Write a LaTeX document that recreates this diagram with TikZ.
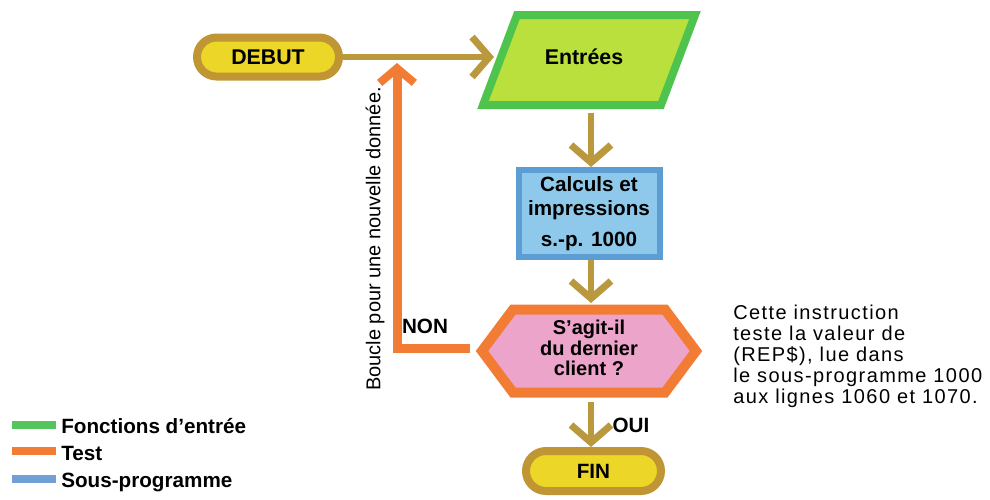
\documentclass[tikz,border=0pt]{standalone}
\usepackage{fontspec}
\setmainfont{Liberation Sans}
\usetikzlibrary{arrows.meta,shapes.misc}

\definecolor{flowarrow}{RGB}{186,152,62}
\definecolor{pillring}{RGB}{192,150,52}
\definecolor{pillfill}{RGB}{236,214,40}
\definecolor{inring}{RGB}{78,196,78}
\definecolor{infill}{RGB}{186,224,62}
\definecolor{subring}{RGB}{92,158,212}
\definecolor{subfill}{RGB}{142,200,234}
\definecolor{testring}{RGB}{242,124,52}
\definecolor{testfill}{RGB}{236,164,202}
\definecolor{legblue}{RGB}{112,160,214}
\definecolor{leggreen}{RGB}{84,196,92}

\begin{document}
\begin{tikzpicture}[x=0.75pt,y=-0.75pt,
  lbl/.style={font=\bfseries\fontsize{15.5}{18}\selectfont, inner sep=0pt, align=center},
  pill/.style={rounded rectangle, draw=pillring, line width=6pt, fill=pillfill, lbl},
  inring/.style={draw=inring, fill=infill, line width=6pt, line join=miter},
  testring/.style={draw=testring, fill=testfill, line width=7.5pt, line join=miter},
  subbox/.style={rectangle, draw=subring, fill=subfill, line width=4.5pt, lbl},
  flow/.style={draw=flowarrow, line width=5pt, -{Straight Barb[length=13pt,width=30pt,line width=5.25pt]}},
  loopback/.style={draw=testring, line width=6.75pt, line join=miter, -{Straight Barb[length=11pt,width=26pt,line width=6pt]}},
  legbar/.style={rectangle, inner sep=0pt, minimum width=33pt, minimum height=6pt},
  legtext/.style={font=\bfseries\fontsize{15.5}{18}\selectfont, inner sep=0pt, anchor=base west},
  note/.style={font=\fontsize{15}{15.75}\selectfont\addfontfeature{LetterSpace=7}, inner sep=0pt, align=left},
  ]
\useasboundingbox (0,0) rectangle (990,500);

% start terminal
\node[pill, font=\bfseries\fontsize{16}{18}\selectfont, minimum width=106.5pt, minimum height=29.25pt] (debut) at (268,57) {DEBUT};

% input parallelogram
\coordinate (entc) at (589,60);
\path[inring] ([shift={(-72,-45)}]entc) -- ([shift={(106,-45)}]entc)
  -- ([shift={(72,45)}]entc) -- ([shift={(-106,45)}]entc) -- cycle;
\node[lbl, font=\bfseries\fontsize{16}{18}\selectfont] (entrees) at (584,57) {Entrées};
\coordinate (entw) at (494,57);
\coordinate (ents) at (591,113);

% subroutine box
\node[subbox, minimum width=105.75pt, minimum height=65.25pt] (calc) at (589,213.5)
  {Calculs et\\impressions\\[5pt]s.-p. 1000};

% test hexagon
\coordinate (testc) at (589,351);
\path[testring] ([shift={(-107,0)}]testc) -- ([shift={(-76,-41.5)}]testc)
  -- ([shift={(76,-41.5)}]testc) -- ([shift={(107,0)}]testc)
  -- ([shift={(76,41.5)}]testc) -- ([shift={(-76,41.5)}]testc) -- cycle;
\node[lbl, font=\bfseries\fontsize{15}{15.5}\selectfont] (test) at (589,348) {S’agit-il\\du dernier\\client ?};
\coordinate (testn) at (591,303);
\coordinate (tests) at (591,402);
\coordinate (testw) at (470,348);

% end terminal
\node[pill, minimum width=101.25pt, minimum height=30pt] (fin) at (593.5,471) {FIN};

% main flow
\draw[flow] (debut.east) -- (entw);
\draw[flow] (ents) -- (ents |- calc.north);
\draw[flow] (calc.south -| ents) -- (testn);
\draw[flow] (tests) -- (tests |- fin.north);

% loop back on NON
\coordinate (loopcorner) at (397,348);
\coordinate (looptop) at (397,63);
\draw[loopback] (testw) -- (loopcorner) -- (looptop);
\node[lbl] (non) at (425,326) {NON};
\node[lbl] (oui) at (631,425) {OUI};
\node[rotate=90, inner sep=0pt, font=\fontsize{15}{18}\selectfont] (loopnote) at (375,239)
  {Boucle pour une nouvelle donnée.};

% side note
\node[note, anchor=north west] (remark) at (733,305)
  {Cette instruction\\teste la valeur de\\(REP\$), lue dans\\le sous-programme 1000\\aux lignes 1060 et 1070.};

% legend
\node[legbar, fill=leggreen] (legin) at (34,424.5) {};
\node[legbar, fill=testring] (legtest) at (34,451) {};
\node[legbar, fill=legblue] (legsub) at (34,479) {};
\node[legtext] (legintext) at (61,433) {Fonctions d’entrée};
\node[legtext] (legtesttext) at (61,460) {Test};
\node[legtext] (legsubtext) at (61,487) {Sous-programme};
\end{tikzpicture}
\end{document}
